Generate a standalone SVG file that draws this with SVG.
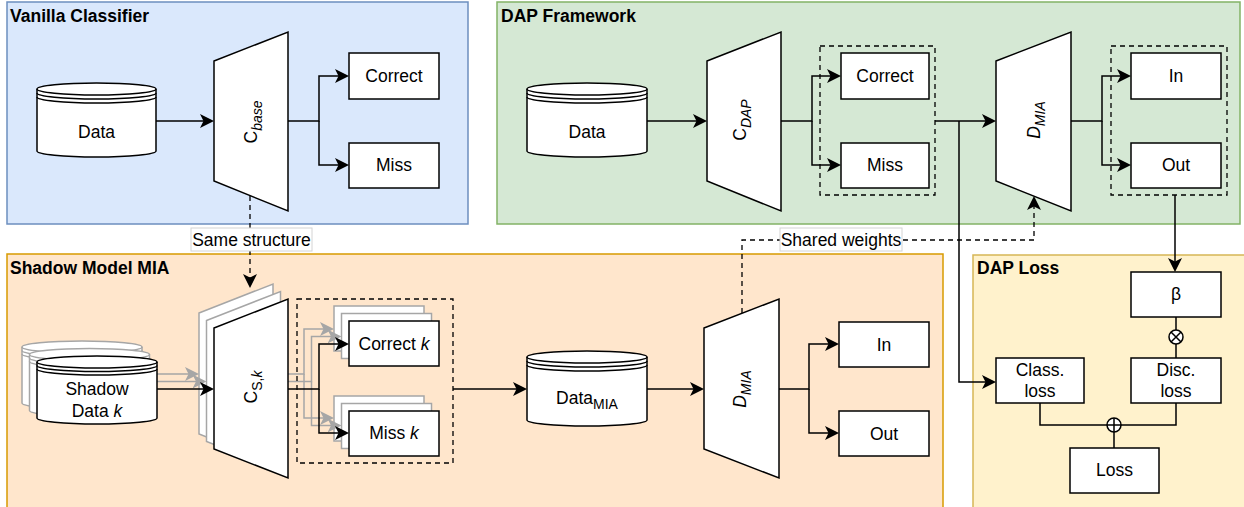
<svg xmlns="http://www.w3.org/2000/svg" width="1244" height="507" viewBox="0 0 1244 507">
<defs>
<style>
text{font-family:"Liberation Sans",Arial,Helvetica,sans-serif;font-size:17.5px;fill:#000}
.title{font-weight:bold}
.c{text-anchor:middle}
.node{fill:#fff;stroke:#000;stroke-width:1.5}
.deco{fill:none;stroke:#000;stroke-width:1.5}
.ghost .node,.ghost .deco{stroke:#a6a6a6}
.ln{fill:none;stroke:#000;stroke-width:1.5}
.ghost .ln{stroke:#a6a6a6}
.arr{marker-end:url(#arr)}
.ghost .arr{marker-end:url(#arrg)}
.dash{fill:none;stroke:#000;stroke-width:1.3;stroke-dasharray:5 4}
.lbl{fill:#fff;stroke:#d4d4d4;stroke-width:1}
.sub{font-size:14px}
</style>
<marker id="arr" markerUnits="userSpaceOnUse" viewBox="0 0 14 14" refX="11" refY="7" markerWidth="14" markerHeight="14" orient="auto">
<path d="M0,0 L14,7 L0,14 L3.5,7 Z" fill="#000"/>
</marker>
<marker id="arrg" markerUnits="userSpaceOnUse" viewBox="0 0 14 14" refX="11" refY="7" markerWidth="14" markerHeight="14" orient="auto">
<path d="M0,0 L14,7 L0,14 L3.5,7 Z" fill="#a6a6a6"/>
</marker>
</defs>

<!-- Panels -->
<g id="panel-vanilla">
<rect x="7" y="2" width="461" height="222" fill="#dae8fc" stroke="#6c8ebf" stroke-width="1.5"/>
<text x="10" y="22" class="title">Vanilla Classifier</text>
</g>
<g id="panel-dap">
<rect x="497" y="2" width="743" height="222" fill="#d5e8d4" stroke="#82b366" stroke-width="1.5"/>
<text x="501" y="22" class="title">DAP Framework</text>
</g>
<g id="panel-shadow">
<rect x="7" y="254" width="936" height="262" fill="#ffe6cc" stroke="#d79b00" stroke-width="1.5"/>
<text x="10" y="274" class="title">Shadow Model MIA</text>
</g>
<g id="panel-loss">
<rect x="973" y="255" width="280" height="262" fill="#fff2cc" stroke="#d6b656" stroke-width="1.5"/>
<text x="977" y="274" class="title">DAP Loss</text>
</g>

<!-- Vanilla nodes -->
<g id="vanilla-data">
<path class="node" d="M37,89 A59.5,6 0 0 1 156,89 V151 A59.5,6 0 0 1 37,151 Z"/>
<path class="deco" d="M37,89 A59.5,6 0 0 0 156,89 M37,93 A59.5,6 0 0 0 156,93 M37,97 A59.5,6 0 0 0 156,97"/>
<text x="96.5" y="138" class="c">Data</text>
</g>
<g id="vanilla-cbase">
<path class="node" d="M214,61 L288,32 L288,211 L214,181 Z"/>
<text transform="translate(257,122) rotate(-90)" class="c">C<tspan class="sub" font-style="italic" dy="5">base</tspan></text>
</g>
<g id="vanilla-correct">
<rect class="node" x="349" y="53" width="90" height="46"/>
<text x="394" y="82" class="c">Correct</text>
</g>
<g id="vanilla-miss">
<rect class="node" x="349" y="143" width="90" height="45"/>
<text x="394" y="171" class="c">Miss</text>
</g>

<!-- DAP nodes -->
<g id="dap-data">
<path class="node" d="M527,89 A60,6 0 0 1 647,89 V151 A60,6 0 0 1 527,151 Z"/>
<path class="deco" d="M527,89 A60,6 0 0 0 647,89 M527,93 A60,6 0 0 0 647,93 M527,97 A60,6 0 0 0 647,97"/>
<text x="587" y="138" class="c">Data</text>
</g>
<g id="dap-cdap">
<path class="node" d="M707,61 L781,32 L781,211 L707,181 Z"/>
<text transform="translate(746,120) rotate(-90)" class="c">C<tspan class="sub" font-style="italic" dy="5">DAP</tspan></text>
</g>
<g id="dap-cls-group">
<rect class="dash" x="820" y="46" width="115" height="149"/>
</g>
<g id="dap-correct">
<rect class="node" x="841" y="53" width="88" height="46"/>
<text x="885" y="82" class="c">Correct</text>
</g>
<g id="dap-miss">
<rect class="node" x="841" y="143" width="88" height="45"/>
<text x="885" y="171" class="c">Miss</text>
</g>
<g id="dap-dmia">
<path class="node" d="M996,61 L1071,32 L1071,211 L996,181 Z"/>
<text transform="translate(1040,120) rotate(-90)" class="c"><tspan font-style="italic">D</tspan><tspan class="sub" font-style="italic" dy="5">MIA</tspan></text>
</g>
<g id="dap-mia-group">
<rect class="dash" x="1111" y="46" width="116" height="149"/>
</g>
<g id="dap-in">
<rect class="node" x="1131" y="53" width="90" height="46"/>
<text x="1176" y="82" class="c">In</text>
</g>
<g id="dap-out">
<rect class="node" x="1131" y="143" width="90" height="45"/>
<text x="1176" y="171" class="c">Out</text>
</g>

<!-- Shadow stack ghost layers -->
<g id="shadow-ghost-2" class="ghost" transform="translate(-15,-15)">
<g class="connectors">
<path class="ln arr" d="M157,389 H211"/>
<path class="ln arr" d="M288,389 H319 V344 H346"/>
<path class="ln arr" d="M319,389 V433 H346"/>
</g>
<g id="shadow-data-ghost-2">
<path class="node" d="M37,362 A60,6 0 0 1 157,362 V418 A60,6 0 0 1 37,418 Z"/>
<path class="deco" d="M37,362 A60,6 0 0 0 157,362 M37,365.5 A60,6 0 0 0 157,365.5 M37,369 A60,6 0 0 0 157,369"/>
</g>
<g id="csk-ghost-2"><path class="node" d="M214,328 L288,299 L288,478 L214,449 Z"/></g>
<g id="correctk-ghost-2"><rect class="node" x="349" y="321" width="90" height="45"/></g>
<g id="missk-ghost-2"><rect class="node" x="349" y="411" width="90" height="45"/></g>
</g>
<g id="shadow-ghost-1" class="ghost" transform="translate(-7.5,-7.5)">
<g class="connectors">
<path class="ln arr" d="M157,389 H211"/>
<path class="ln arr" d="M288,389 H319 V344 H346"/>
<path class="ln arr" d="M319,389 V433 H346"/>
</g>
<g id="shadow-data-ghost-1">
<path class="node" d="M37,362 A60,6 0 0 1 157,362 V418 A60,6 0 0 1 37,418 Z"/>
<path class="deco" d="M37,362 A60,6 0 0 0 157,362 M37,365.5 A60,6 0 0 0 157,365.5 M37,369 A60,6 0 0 0 157,369"/>
</g>
<g id="csk-ghost-1"><path class="node" d="M214,328 L288,299 L288,478 L214,449 Z"/></g>
<g id="correctk-ghost-1"><rect class="node" x="349" y="321" width="90" height="45"/></g>
<g id="missk-ghost-1"><rect class="node" x="349" y="411" width="90" height="45"/></g>
</g>

<!-- Shadow front nodes -->
<g id="shadow-data">
<path class="node" d="M37,362 A60,6 0 0 1 157,362 V418 A60,6 0 0 1 37,418 Z"/>
<path class="deco" d="M37,362 A60,6 0 0 0 157,362 M37,365.5 A60,6 0 0 0 157,365.5 M37,369 A60,6 0 0 0 157,369"/>
<text x="97" y="395" class="c">Shadow</text>
<text x="97" y="417" class="c">Data <tspan font-style="italic">k</tspan></text>
</g>
<g id="shadow-csk">
<path class="node" d="M214,328 L288,299 L288,478 L214,449 Z"/>
<text transform="translate(257,387) rotate(-90)" class="c">C<tspan class="sub" dy="5">S,<tspan font-style="italic">k</tspan></tspan></text>
</g>
<g id="shadow-cls-group">
<rect class="dash" x="297" y="299" width="156" height="164"/>
</g>
<g id="shadow-correctk">
<rect class="node" x="349" y="321" width="90" height="45"/>
<text x="394" y="350" class="c">Correct <tspan font-style="italic">k</tspan></text>
</g>
<g id="shadow-missk">
<rect class="node" x="349" y="411" width="90" height="45"/>
<text x="394" y="439" class="c">Miss <tspan font-style="italic">k</tspan></text>
</g>
<g id="shadow-datamia">
<path class="node" d="M527,357 A60,6 0 0 1 647,357 V420 A60,6 0 0 1 527,420 Z"/>
<path class="deco" d="M527,357 A60,6 0 0 0 647,357 M527,361 A60,6 0 0 0 647,361 M527,365 A60,6 0 0 0 647,365"/>
<text x="587" y="404" class="c">Data<tspan class="sub" dy="5">MIA</tspan></text>
</g>
<g id="shadow-dmia">
<path class="node" d="M704,328 L779,299 L779,478 L704,449 Z"/>
<text transform="translate(746,389) rotate(-90)" class="c"><tspan font-style="italic">D</tspan><tspan class="sub" font-style="italic" dy="5">MIA</tspan></text>
</g>
<g id="shadow-in">
<rect class="node" x="839" y="322" width="90" height="45"/>
<text x="884" y="351" class="c">In</text>
</g>
<g id="shadow-out">
<rect class="node" x="839" y="411" width="90" height="45"/>
<text x="884" y="440" class="c">Out</text>
</g>

<!-- DAP Loss nodes -->
<g id="loss-beta">
<rect class="node" x="1131" y="272" width="90" height="45"/>
<text x="1176" y="300" class="c">β</text>
</g>
<g id="loss-mult">
<circle class="node" cx="1176" cy="337" r="7"/>
<path class="deco" d="M1171,332 L1181,342 M1181,332 L1171,342"/>
</g>
<g id="loss-disc">
<rect class="node" x="1131" y="358" width="90" height="45"/>
<text x="1176" y="376" class="c">Disc.</text>
<text x="1176" y="397" class="c">loss</text>
</g>
<g id="loss-class">
<rect class="node" x="996" y="358" width="88" height="45"/>
<text x="1040" y="376" class="c">Class.</text>
<text x="1040" y="397" class="c">loss</text>
</g>
<g id="loss-plus">
<circle class="node" cx="1114" cy="425" r="7"/>
<path class="deco" d="M1107,425 H1121 M1114,418 V432"/>
</g>
<g id="loss-total">
<rect class="node" x="1070" y="448" width="89" height="45"/>
<text x="1114.5" y="476" class="c">Loss</text>
</g>

<!-- Connectors -->
<g id="connectors">
<path class="ln arr" d="M156,121 H211"/>
<path class="ln arr" d="M288,121 H319 V76 H346"/>
<path class="ln arr" d="M319,121 V165 H346"/>
<path class="dash arr" d="M250,196 V285"/>
<path class="ln arr" d="M647,121 H704"/>
<path class="ln arr" d="M781,121 H812 V76 H838"/>
<path class="ln arr" d="M812,121 V165 H838"/>
<path class="ln arr" d="M935,121 H993"/>
<path class="ln arr" d="M1071,121 H1102 V76 H1128"/>
<path class="ln arr" d="M1102,121 V165 H1128"/>
<path class="ln arr" d="M959,121 V382 H993"/>
<path class="ln arr" d="M1175,195 V269"/>
<path class="dash arr" d="M742,313 V240 H1034 V199"/>
<path class="ln arr" d="M157,389 H211"/>
<path class="ln arr" d="M288,389 H319 V344 H346"/>
<path class="ln arr" d="M319,389 V433 H346"/>
<path class="ln arr" d="M453,389 H524"/>
<path class="ln arr" d="M647,389 H701"/>
<path class="ln arr" d="M779,389 H809 V344 H836"/>
<path class="ln arr" d="M809,389 V433 H836"/>
<path class="ln" d="M1176,317 V330 M1176,344 V358"/>
<path class="ln" d="M1040,403 V425 H1107 M1176,403 V425 H1121 M1114,432 V448"/>
</g>

<!-- Edge labels -->
<g id="label-same-structure">
<rect class="lbl" x="191" y="228" width="121" height="23"/>
<text x="251.5" y="246" class="c">Same structure</text>
</g>
<g id="label-shared-weights">
<rect class="lbl" x="780" y="228" width="122" height="23"/>
<text x="841" y="246" class="c">Shared weights</text>
</g>
</svg>
